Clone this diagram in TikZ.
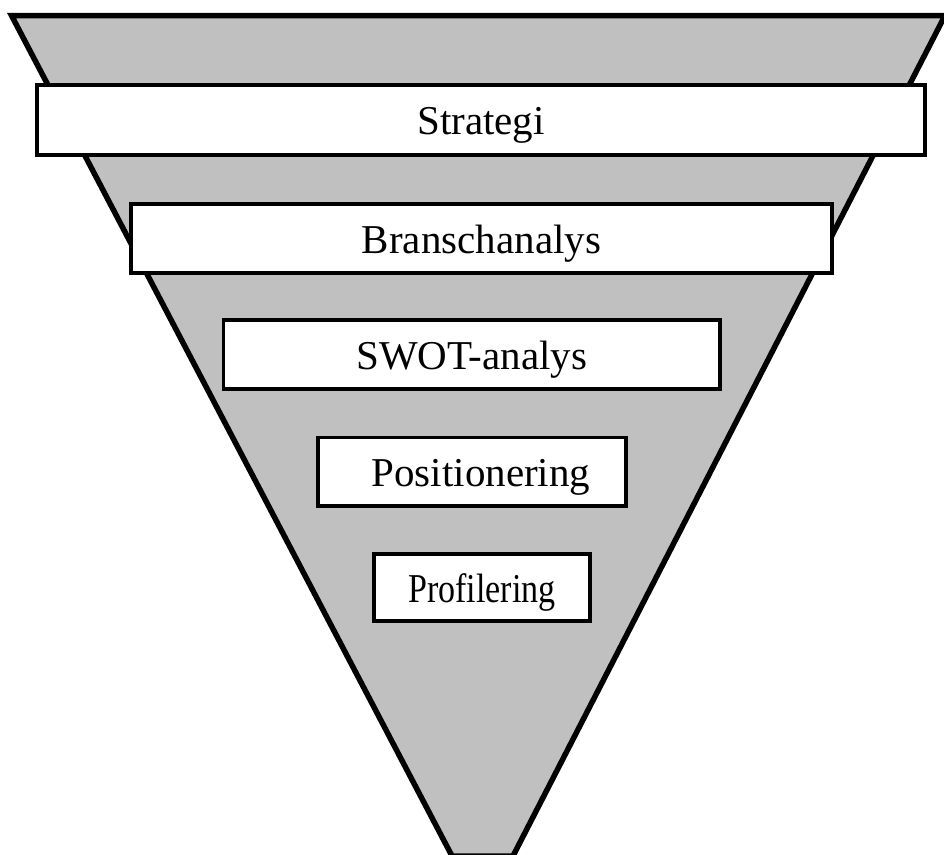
\documentclass[tikz,border=0pt]{standalone}
\usepackage{fontspec}
\setmainfont{Liberation Serif}
\definecolor{funnelgray}{RGB}{192,192,192}
\begin{document}
\begin{tikzpicture}[x=1pt,y=-1pt,
  funnel/.style={fill=funnelgray,draw=black,line width=5.5pt,line join=miter},
  stagebox/.style={draw=black,fill=white,line width=3.5pt,rectangle,inner sep=0pt,
    text height=29pt,text depth=0pt,font=\fontsize{41}{48}\selectfont}]
\useasboundingbox (0,0) rectangle (944,854);
\draw[funnel] (11.5,15.5) -- (945,15.5) -- (513,856) -- (452,856) -- cycle;
\node[stagebox,minimum width=888pt,minimum height=70pt] (strategi) at (481,120) {Strategi};
\node[stagebox,minimum width=701pt,minimum height=69pt] (bransch) at (481.5,238.5) {Branschanalys};
\node[stagebox,minimum width=496.5pt,minimum height=69pt] (swot) at (471.75,354.5) {SWOT-analys};
\node[stagebox,minimum width=308pt,minimum height=68.5pt] (pos) at (472,471.75) {\hspace*{18pt}Positionering};
\node[stagebox,minimum width=216pt,minimum height=67pt] (prof) at (482,587.5) {\scalebox{0.83}[1]{Profilering}};
\end{tikzpicture}
\end{document}
